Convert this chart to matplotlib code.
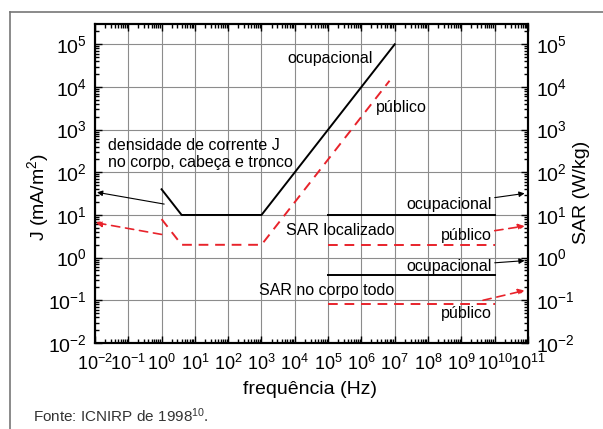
import numpy as np
import matplotlib.pyplot as plt
from matplotlib import font_manager
from matplotlib.lines import Line2D
from matplotlib.ticker import LogLocator, LogFormatterSciNotation, NullFormatter

names = {f.name for f in font_manager.fontManager.ttflist}
narrow = 'Liberation Sans Narrow' if 'Liberation Sans Narrow' in names else 'Liberation Sans'
print(narrow)
plt.rcParams['font.family'] = ['Liberation Sans', 'DejaVu Sans']
plt.rcParams['mathtext.default'] = 'regular'

# J limits (mA/m2)
j_ocup_f = [1, 4, 1e3, 1e7]
j_ocup_v = [40, 10, 10, 1e5]
j_pub_f = [1, 4, 1e3, 7e6]
j_pub_v = [8, 2, 2, 1.4e4]

# SAR limits (W/kg)
sar_f = [1e5, 1e10]
sar_loc_ocup = [10, 10]
sar_loc_pub = [2, 2]
sar_corpo_ocup = [0.4, 0.4]
sar_corpo_pub = [0.08, 0.08]

red = '#e8232b'

fig = plt.figure(figsize=(6.03, 4.29), dpi=100)
ax = fig.add_axes([0.1575, 0.2005, 0.718, 0.7436])

ax.plot(j_ocup_f, j_ocup_v, color='black', lw=1.4)
ax.plot(j_pub_f, j_pub_v, color=red, lw=1.4, dashes=(5, 3.5))
ax.plot(sar_f, sar_loc_ocup, color='black', lw=1.4)
ax.plot(sar_f, sar_loc_pub, color=red, lw=1.4, dashes=(5, 3.5))
ax.plot(sar_f, sar_corpo_ocup, color='black', lw=1.4)
ax.plot(sar_f, sar_corpo_pub, color=red, lw=1.4, dashes=(5, 3.5))

ax.set_xscale('log')
ax.set_yscale('log')
ax.set_xlim(1e-2, 1e11)
ax.set_ylim(1e-2, 10**5.476)

ax.grid(True, which='major', color='#8c8c8c', lw=0.8)
ax.set_axisbelow(True)
for s in ax.spines.values():
    s.set_linewidth(1.5)

ax.xaxis.set_major_locator(LogLocator(base=10, numticks=20))
ax.xaxis.set_minor_locator(LogLocator(base=10, subs=np.arange(2, 10), numticks=20))
ax.xaxis.set_minor_formatter(NullFormatter())
ax.yaxis.set_major_locator(LogLocator(base=10, numticks=20))
ax.yaxis.set_minor_locator(LogLocator(base=10, subs=np.arange(2, 10), numticks=20))
ax.yaxis.set_minor_formatter(NullFormatter())
ax.tick_params(which='both', direction='in', top=True, right=True, width=1)
ax.tick_params(which='major', length=5)
ax.tick_params(which='minor', length=3)
ax.tick_params(axis='x', which='major', pad=8)
ax.tick_params(axis='y', which='major', pad=6)
for lab in ax.get_xticklabels():
    lab.set_fontsize(13)
    lab.set_family([narrow, 'DejaVu Sans'])
for lab in ax.get_yticklabels():
    lab.set_fontsize(14)
    lab.set_family([narrow, 'DejaVu Sans'])

ax2 = ax.twinx()
ax2.set_yscale('log')
ax2.set_ylim(ax.get_ylim())
ax2.yaxis.set_major_locator(LogLocator(base=10, numticks=20))
ax2.yaxis.set_minor_locator(LogLocator(base=10, subs=np.arange(2, 10), numticks=20))
ax2.yaxis.set_minor_formatter(NullFormatter())
ax2.tick_params(which='both', direction='in', width=1)
ax2.tick_params(which='major', length=5, pad=6)
ax2.tick_params(which='minor', length=3)
for s in ax2.spines.values():
    s.set_linewidth(1.5)
for lab in ax2.get_yticklabels():
    lab.set_fontsize(14)
    lab.set_family([narrow, 'DejaVu Sans'])

fs = 11.5
ax.text(10**3.77, 10**4.66, 'ocupacional', fontsize=fs, ha='left', va='center')
ax.text(10**6.44, 10**3.53, 'público', fontsize=fs, ha='left', va='center')
ax.text(10**-1.61, 10**2.43, 'densidade de corrente J\nno corpo, cabeça e tronco',
        fontsize=fs, ha='left', va='center', linespacing=1.15)
ax.text(10**7.0, 10**0.625, 'SAR localizado', fontsize=fs, ha='right', va='center')
ax.text(10**7.0, 10**-0.775, 'SAR no corpo todo', fontsize=fs, ha='right', va='center')
ax.text(10**9.92, 10**-1.32, 'público', fontsize=fs, ha='right', va='center')

arrow_k = dict(arrowstyle='-|>', color='black', lw=0.8, mutation_scale=8, shrinkA=0, shrinkB=0)
arrow_r = dict(arrowstyle='-|>', color=red, lw=1.2, ls=(0, (5, 3.5)), mutation_scale=9,
               shrinkA=0, shrinkB=0)

ax.annotate('', xy=(0.0115, 34), xytext=(1.2, 18), arrowprops=arrow_k)
ax.annotate('', xy=(0.0105, 6.6), xytext=(1, 3.5), arrowprops=arrow_r)
ax.annotate('ocupacional', xy=(10**10.9, 32), xytext=(10**9.92, 10**1.257),
            fontsize=fs, ha='right', va='center', arrowprops=arrow_k)
ax.annotate('público', xy=(10**10.9, 5.5), xytext=(10**9.92, 10**0.53),
            fontsize=fs, ha='right', va='center', arrowprops=arrow_r)
ax.annotate('', xy=(10**10.9, 10**0.42), xytext=(10**9.6, 10**0.4), arrowprops=arrow_r) if False else None
ax.annotate('ocupacional', xy=(10**10.9, 0.85), xytext=(10**9.92, 10**-0.197),
            fontsize=fs, ha='right', va='center', arrowprops=arrow_k)
ax.annotate('', xy=(10**10.9, 0.17), xytext=(10**9.65, 0.1), arrowprops=arrow_r)

fig.text(310 / 603, 1 - 390 / 429, 'frequência (Hz)', fontsize=14, ha='center', va='center')
fig.text(38 / 603, 1 - 197 / 429, 'J (mA/m$^2$)', fontsize=14, ha='center', va='center',
         rotation=90)
fig.text(582 / 603, 1 - 192 / 429, 'SAR (W/kg)', fontsize=14, ha='center', va='center',
         rotation=90)
fig.text(33 / 603, 1 - 416 / 429, 'Fonte: ICNIRP de 1998$^{10}$.', fontsize=11,
         ha='left', va='center', color='#333333', family=[narrow, 'DejaVu Sans'])

# outer frame (top and left edges)
fig.add_artist(Line2D([10 / 603, 10 / 603], [0, 1 - 12 / 429], transform=fig.transFigure,
                      color='#777777', lw=1.2))
fig.add_artist(Line2D([10 / 603, 1], [1 - 12 / 429, 1 - 12 / 429], transform=fig.transFigure,
                      color='#777777', lw=1.2))

fig.savefig('out.png', dpi=100)
